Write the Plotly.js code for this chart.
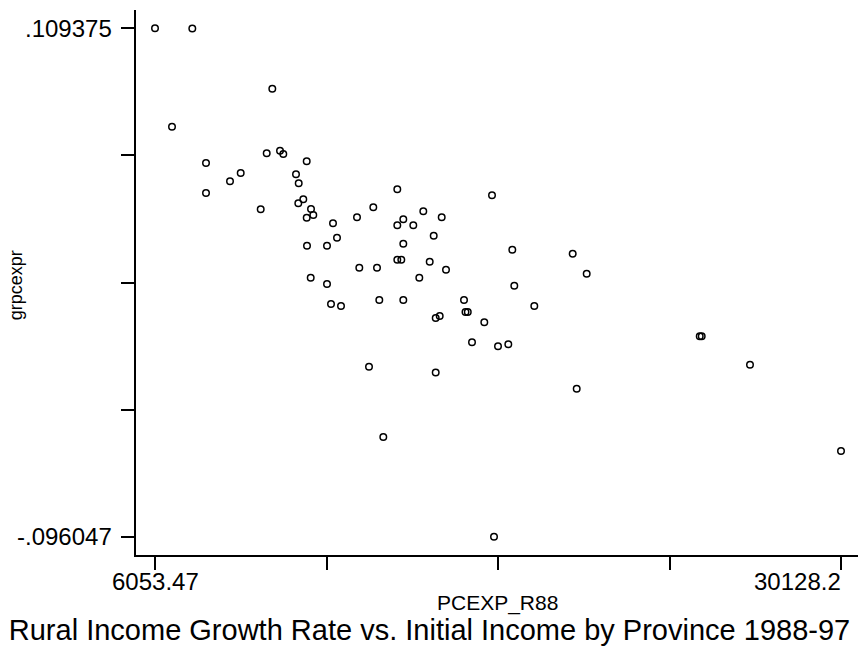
<!DOCTYPE html>
<html>
<head>
<meta charset="utf-8">
<script src="https://cdn.plot.ly/plotly-3.0.1.min.js"></script>
<style>html,body{margin:0;padding:0;background:#fff;}#chart{width:859px;height:647px;}</style>
</head>
<body>
<div id="chart"></div>
<script>
// Initial income (PCEXP_R88) per province
const pcexpR88 = [
  6053.47, 7362.5, 10170, 6650.1, 9973.5, 10440.2, 10556, 11377.2, 7843.3, 9061,
  8685.5, 11001.7, 11096.5, 7843.3, 11257.9, 11082.5, 9762.9, 11528.1, 11608.9, 11377.2,
  14556.7, 13714.5, 13142.5, 12300.2, 14556.7, 12440.6, 11387.8, 12089.6, 14556.7, 13223.2,
  13844.3, 11517.6, 12089.6, 17880.2, 15469.2, 16114.9, 14767.3, 15118.2, 15834.2, 14767.3,
  14697.1, 15693.8, 16265.8, 15328.8, 18592.4, 20712.2, 21203.3, 18662.7, 13925, 14767.3,
  16897.5, 16950, 17030, 19364.6, 15904.4, 16044.8, 17609.9, 17178.3, 18090.7, 18452.2,
  15904.4, 20852.6, 25170, 25240, 26934.4, 30128.2, 12230, 12580.9, 13563.6, 14065.4,
  17950.3
];
// Rural income growth rate (grpcexpr)
const grpcexpr = [
  0.109375, 0.1093, 0.08497, 0.06962, 0.05887, 0.05992, 0.05858, 0.05564, 0.05495, 0.05091,
  0.04755, 0.05038, 0.04675, 0.04283, 0.04028, 0.03867, 0.03624, 0.03636, 0.03394, 0.03285,
  0.04432, 0.03705, 0.03301, 0.03058, 0.02977, 0.02476, 0.02153, 0.02153, 0.01587, 0.01264,
  0.01264, 0.0086, 0.00606, 0.0419, 0.03543, 0.03301, 0.0322, 0.02977, 0.02557, 0.02234,
  0.01587, 0.01507, 0.01184, 0.0086, 0.01991, 0.0183, 0.01018, 0.00537, -0.00041, -0.00041,
  -0.00041, -0.00526, -0.00526, -0.00283, -0.00768, -0.00687, -0.00942, -0.0175, -0.01911, -0.0183,
  -0.0297, -0.03629, -0.01508, -0.01508, -0.02655, -0.06143, -0.00202, -0.00283, -0.02736, -0.05576,
  -0.096047
];
const xTickVals = [6053.47, 12072.15, 18090.84, 24109.52, 30128.2];
const xTickText = ['6053.47', '', '', '', '30128.2'];
const yTickVals = [0.109375, 0.0580195, 0.006664, -0.0446915, -0.096047];
const yTickText = ['.109375', '', '', '', '-.096047'];
const xTitle = 'PCEXP_R88';
const yTitle = 'grpcexpr';
const chartTitle = 'Rural Income Growth Rate vs. Initial Income by Province 1988-97';

const font = 'Liberation Sans, Arial, sans-serif';
const annotations = [];
xTickText.forEach((t, i) => {
  if (!t) return;
  const last = i === xTickText.length - 1;
  annotations.push({
    xref: 'x', yref: 'paper', x: xTickVals[i], y: 0,
    text: t, showarrow: false,
    xanchor: last ? 'right' : 'center', yanchor: 'top',
    xshift: last ? 2 : 0, yshift: -11,
    font: {family: font, size: 24, color: '#000'}
  });
});
yTickText.forEach((t, i) => {
  if (!t) return;
  annotations.push({
    xref: 'paper', yref: 'y', x: 0, y: yTickVals[i],
    text: t, showarrow: false,
    xanchor: 'right', yanchor: 'middle', xshift: -22,
    font: {family: font, size: 24, color: '#000'}
  });
});
annotations.push({
  xref: 'paper', yref: 'paper', x: 0.5, y: 0, yshift: -34,
  text: xTitle, showarrow: false, xanchor: 'center', yanchor: 'top',
  font: {family: font, size: 21, color: '#000'}
});
annotations.push({
  xref: 'paper', yref: 'paper', x: 0, xshift: -120, y: 0.495,
  text: yTitle, showarrow: false, textangle: -90, xanchor: 'center', yanchor: 'middle',
  font: {family: font, size: 18, color: '#000'}
});

const trace = {
  type: 'scatter', mode: 'markers',
  x: pcexpR88, y: grpcexpr,
  marker: {symbol: 'circle-open', size: 6.5, color: '#000', line: {width: 1.5, color: '#000'}},
  hoverinfo: 'x+y'
};

const layout = {
  width: 859, height: 647,
  margin: {l: 136, r: 1, t: 10, b: 92},
  paper_bgcolor: '#fff', plot_bgcolor: '#fff',
  showlegend: false,
  title: {
    text: chartTitle, xref: 'container', yref: 'container', x: 0.5, y: 0.026,
    xanchor: 'center', yanchor: 'middle',
    font: {family: font, size: 29, color: '#000'}
  },
  xaxis: {
    range: [5386.7, 30724.8], showgrid: false, zeroline: false,
    showline: true, linecolor: '#000', linewidth: 2,
    ticks: 'outside', ticklen: 13, tickwidth: 2, tickcolor: '#000',
    tickmode: 'array', tickvals: xTickVals, ticktext: xTickText,
    showticklabels: false
  },
  yaxis: {
    range: [-0.103441, 0.116769], showgrid: false, zeroline: false,
    showline: true, linecolor: '#000', linewidth: 2,
    ticks: 'outside', ticklen: 13, tickwidth: 2, tickcolor: '#000',
    tickmode: 'array', tickvals: yTickVals, ticktext: yTickText,
    showticklabels: false
  },
  annotations: annotations
};

Plotly.newPlot('chart', [trace], layout, {displayModeBar: false, staticPlot: true});
</script>
</body>
</html>
